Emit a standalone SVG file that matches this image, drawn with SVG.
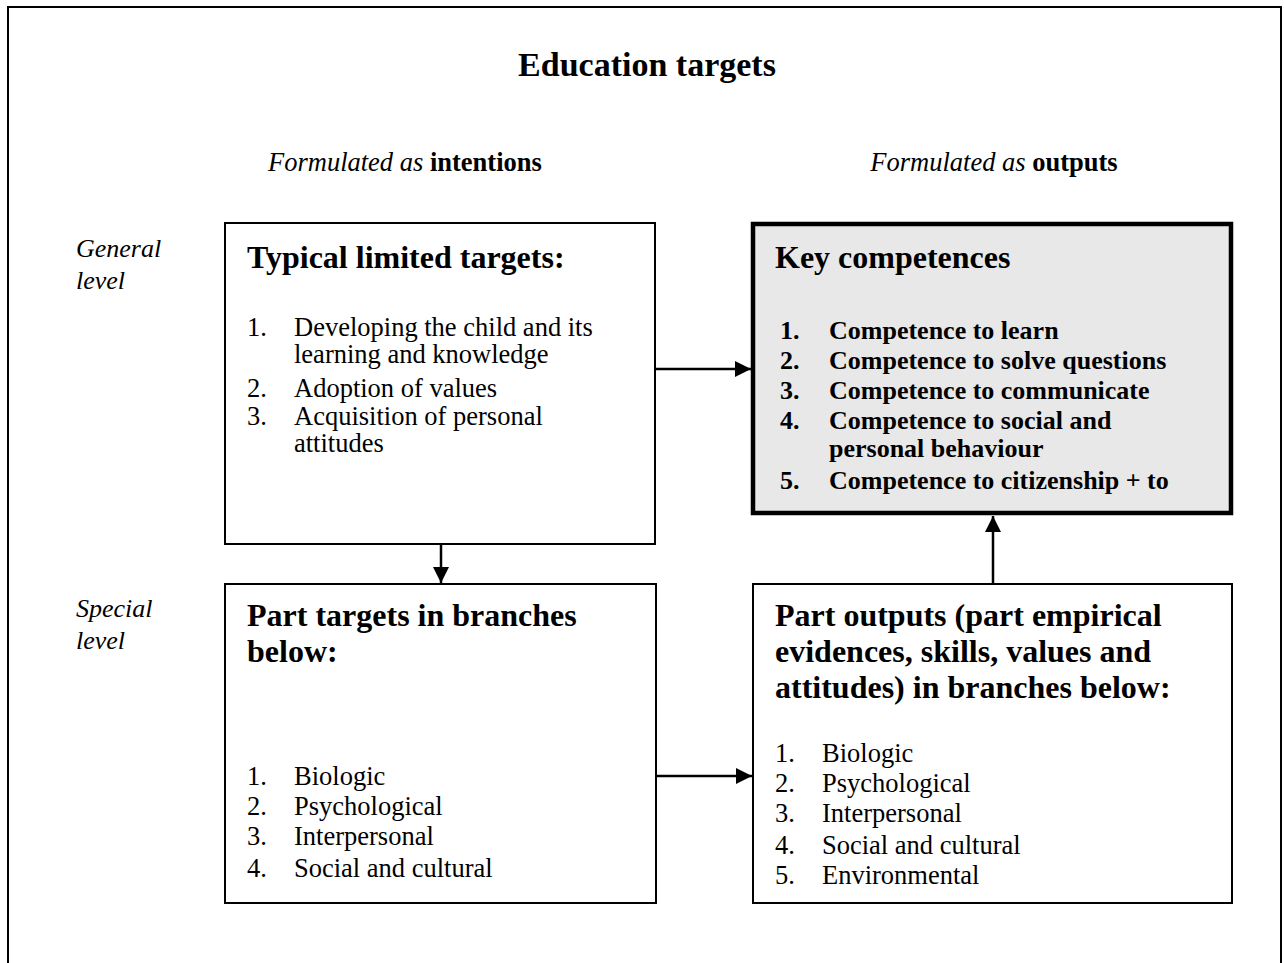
<svg xmlns="http://www.w3.org/2000/svg" width="1284" height="963" viewBox="0 0 1284 963">
<defs>
<style>
text{font-family:"Liberation Serif","Times New Roman",serif;fill:#000}
.t{font-size:34px;font-weight:bold}
.h{font-size:26.5px}
.lv{font-size:26px;font-style:italic}
.bh{font-size:32px;font-weight:bold}
.li{font-size:26.5px}
.lb{font-size:26px;font-weight:bold}
.box{fill:#fff;stroke:#000;stroke-width:2}
.key{fill:#e8e8e8;stroke:#000;stroke-width:4.5}
.c{stroke:#000;stroke-width:2.5;fill:none}
</style>
<marker id="ah" viewBox="0 0 10 10" refX="10" refY="5" markerWidth="16" markerHeight="16" markerUnits="userSpaceOnUse" orient="auto">
<path d="M0,0 L10,5 L0,10 z" fill="#000"/>
</marker>
</defs>
<rect x="0" y="0" width="1284" height="963" fill="#fff"/>
<rect x="8" y="7" width="1273" height="980" fill="none" stroke="#000" stroke-width="2"/>
<text class="t" x="647" y="76" text-anchor="middle">Education targets</text>
<text class="h" x="268" y="171"><tspan font-style="italic">Formulated as</tspan> <tspan font-weight="bold">intentions</tspan></text>
<text class="h" x="994" y="171" text-anchor="middle"><tspan font-style="italic">Formulated as</tspan> <tspan font-weight="bold">outputs</tspan></text>
<text class="lv" x="76" y="257">General</text>
<text class="lv" x="76" y="289">level</text>
<text class="lv" x="76" y="617">Special</text>
<text class="lv" x="76" y="649">level</text>

<g id="typical">
<rect class="box" x="225" y="223" width="430" height="321"/>
<text class="bh" x="247" y="268">Typical limited targets:</text>
<text class="li" x="247" y="336">1.</text><text class="li" x="294" y="336">Developing the child and its</text>
<text class="li" x="294" y="363">learning and knowledge</text>
<text class="li" x="247" y="397">2.</text><text class="li" x="294" y="397">Adoption of values</text>
<text class="li" x="247" y="425">3.</text><text class="li" x="294" y="425">Acquisition of personal</text>
<text class="li" x="294" y="452">attitudes</text>
</g>

<g id="key">
<rect class="key" x="753" y="224" width="478" height="289"/>
<text class="bh" x="775" y="268">Key competences</text>
<text class="lb" x="780" y="339">1.</text><text class="lb" x="829" y="339">Competence to learn</text>
<text class="lb" x="780" y="369">2.</text><text class="lb" x="829" y="369">Competence to solve questions</text>
<text class="lb" x="780" y="399">3.</text><text class="lb" x="829" y="399">Competence to communicate</text>
<text class="lb" x="780" y="429">4.</text><text class="lb" x="829" y="429">Competence to social and</text>
<text class="lb" x="829" y="457">personal behaviour</text>
<text class="lb" x="780" y="489">5.</text><text class="lb" x="829" y="489">Competence to citizenship + to</text>
</g>

<g id="parttargets">
<rect class="box" x="225" y="584" width="431" height="319"/>
<text class="bh" x="247" y="626">Part targets in branches</text>
<text class="bh" x="247" y="662">below:</text>
<text class="li" x="247" y="785">1.</text><text class="li" x="294" y="785">Biologic</text>
<text class="li" x="247" y="815">2.</text><text class="li" x="294" y="815">Psychological</text>
<text class="li" x="247" y="845">3.</text><text class="li" x="294" y="845">Interpersonal</text>
<text class="li" x="247" y="877">4.</text><text class="li" x="294" y="877">Social and cultural</text>
</g>

<g id="partoutputs">
<rect class="box" x="753" y="584" width="479" height="319"/>
<text class="bh" x="775" y="626">Part outputs (part empirical</text>
<text class="bh" x="775" y="662">evidences, skills, values and</text>
<text class="bh" x="775" y="698">attitudes) in branches below:</text>
<text class="li" x="775" y="762">1.</text><text class="li" x="822" y="762">Biologic</text>
<text class="li" x="775" y="792">2.</text><text class="li" x="822" y="792">Psychological</text>
<text class="li" x="775" y="822">3.</text><text class="li" x="822" y="822">Interpersonal</text>
<text class="li" x="775" y="854">4.</text><text class="li" x="822" y="854">Social and cultural</text>
<text class="li" x="775" y="884">5.</text><text class="li" x="822" y="884">Environmental</text>
</g>

<g id="connectors">
<line class="c" x1="656" y1="369" x2="751" y2="369" marker-end="url(#ah)"/>
<line class="c" x1="441" y1="545" x2="441" y2="583" marker-end="url(#ah)"/>
<line class="c" x1="993" y1="583" x2="993" y2="516" marker-end="url(#ah)"/>
<line class="c" x1="657" y1="776" x2="752" y2="776" marker-end="url(#ah)"/>
</g>
</svg>
